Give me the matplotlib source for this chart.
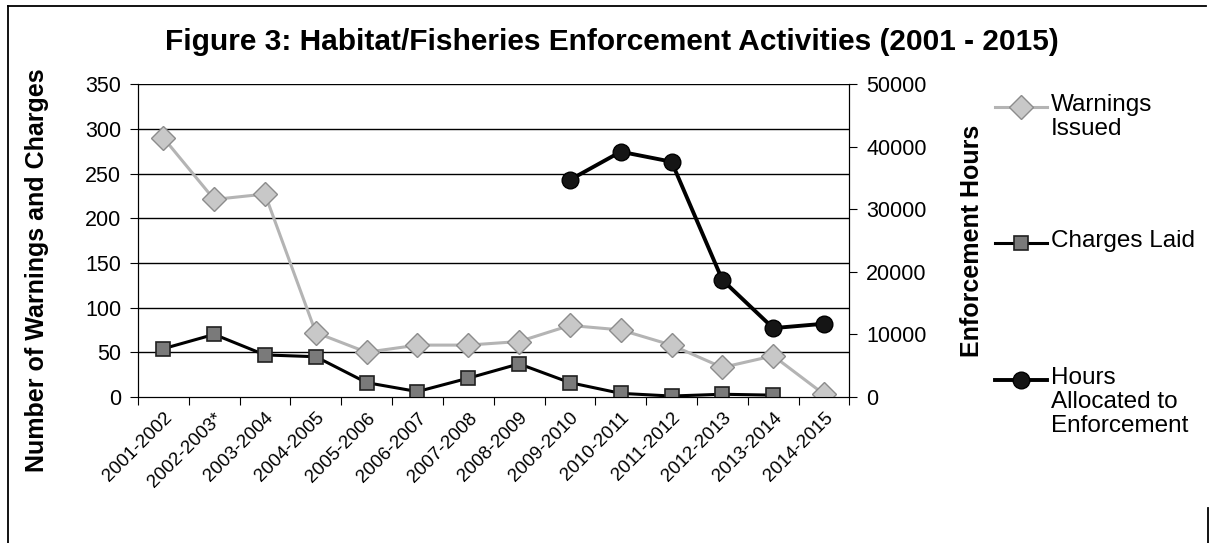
import numpy as np
import matplotlib.pyplot as plt
import matplotlib.lines as mlines

plt.rcParams['font.family'] = ['Liberation Sans', 'DejaVu Sans']

# Fiscal years and enforcement data
years = ['2001-2002', '2002-2003*', '2003-2004', '2004-2005', '2005-2006',
         '2006-2007', '2007-2008', '2008-2009', '2009-2010', '2010-2011',
         '2011-2012', '2012-2013', '2013-2014', '2014-2015']
warnings = [290, 221, 227, 72, 50, 58, 58, 62, 80, 75, 58, 33, 46, 3]
charges = [54, 70, 47, 45, 16, 6, 21, 37, 16, 4, 1, 3, 2, np.nan]
hours = [np.nan] * 8 + [34700, 39200, 37600, 18700, 11000, 11700]

legend_labels = ['Warnings\nIssued', 'Charges Laid', 'Hours\nAllocated to\nEnforcement']

# series styles, shared by plot and legend
warn_style = dict(color='#b4b4b4', lw=2.2, marker='D', ms=12,
                  mfc='#c8c8c8', mec='#8c8c8c', mew=1)
charge_style = dict(color='black', lw=2.2, marker='s', ms=10.5,
                    mfc='#7a7a7a', mec='#202020', mew=1.2)
hour_style = dict(color='black', lw=2.8, marker='o', ms=12,
                  mfc='#151515', mec='black')

x = np.arange(len(years))

fig = plt.figure(figsize=(12.1, 5.43), dpi=100)
ax = fig.add_axes([0.114, 0.269, 0.588, 0.576])
ax2 = ax.twinx()

ax.plot(x, warnings, zorder=3, **warn_style)
ax.plot(x, charges, zorder=4, **charge_style)
ax2.plot(x, hours, zorder=4, **hour_style)

ax.set_xlim(-0.5, len(years) - 0.5)
ax.set_ylim(0, 350)
ax.set_yticks(range(0, 351, 50))
ax2.set_ylim(0, 50000)
ax2.set_yticks(range(0, 50001, 10000))

for v in range(50, 351, 50):
    ax.axhline(v, color='black', lw=1, zorder=1)

# ticks between categories, labels under each category
ax.set_xticks(np.arange(-0.5, len(years), 1))
ax.set_xticklabels([])
ax.set_xticks(x, minor=True)
ax.set_xticklabels(years, minor=True, rotation=45, ha='right',
                   rotation_mode='anchor', fontsize=13.5)
ax.tick_params(axis='x', which='minor', length=0, pad=9)
ax.tick_params(axis='x', which='major', length=6, direction='out')
ax.tick_params(axis='y', labelsize=15.5, length=6, pad=6)
ax2.tick_params(axis='y', labelsize=15.5, length=6, pad=6)

for a in (ax, ax2):
    a.spines['top'].set_visible(False)

ax.set_ylabel('Number of Warnings and Charges', fontsize=18, fontweight='bold')
ax.yaxis.set_label_coords(-0.125, 0.405)
ax2.set_ylabel('Enforcement Hours', fontsize=18, fontweight='bold')
ax2.yaxis.set_label_coords(1.155, 0.50)

fig.text(0.506, 0.922, 'Figure 3: Habitat/Fisheries Enforcement Activities (2001 - 2015)',
         ha='center', va='center', fontsize=21.5, fontweight='bold')

# legend drawn by hand so each key sits on the first text line
key_x0, key_x1, key_mid = 995 / 1210, 1047 / 1210, 1021 / 1210
key_y = [1 - 107 / 543, 1 - 243 / 543, 1 - 380 / 543]
for style, lab, yy in zip([warn_style, charge_style, hour_style], legend_labels, key_y):
    line_kw = {k: v for k, v in style.items() if k in ('color', 'lw')}
    fig.add_artist(mlines.Line2D([key_x0, key_x1], [yy, yy], **line_kw))
    mk = {k: v for k, v in style.items() if k in ('marker', 'ms', 'mfc', 'mec', 'mew')}
    fig.add_artist(mlines.Line2D([key_mid], [yy], ls='none', **mk))
    fig.text(1051 / 1210, yy + 13 / 543, lab, ha='left', va='top',
             fontsize=17.5, linespacing=1.12)

# outer frame
fig.add_artist(mlines.Line2D([0.007, 0.007], [0.0, 0.989], color='black', lw=1.3))
fig.add_artist(mlines.Line2D([0.007, 0.997], [0.989, 0.989], color='black', lw=1.3))
fig.add_artist(mlines.Line2D([0.998, 0.998], [0.0, 0.065], color='black', lw=1.3))

fig.savefig('out.png', dpi=100)
